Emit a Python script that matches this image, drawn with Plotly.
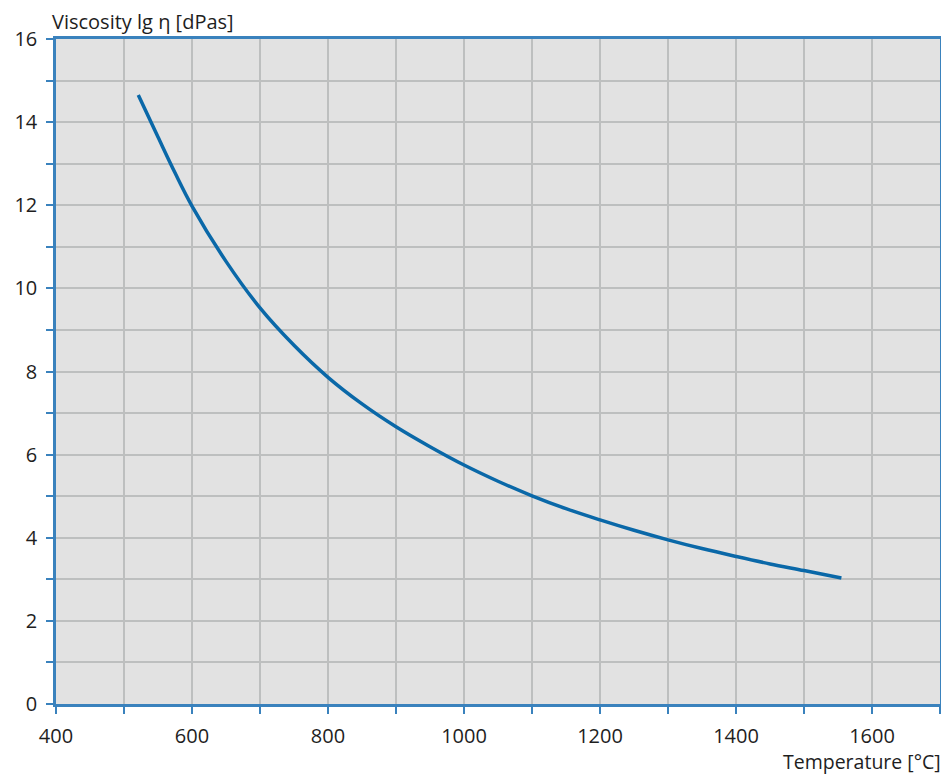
import plotly.graph_objects as go

temperature = [521, 550, 575, 600, 650, 700, 750, 800, 850, 900, 950, 1000, 1050, 1100,
               1150, 1200, 1250, 1300, 1350, 1400, 1450, 1500, 1555]
lg_viscosity = [14.65, 13.64, 12.78, 11.98, 10.65, 9.53, 8.63, 7.86, 7.22, 6.67, 6.19, 5.75, 5.36, 5.01,
                4.70, 4.43, 4.18, 3.95, 3.74, 3.55, 3.37, 3.21, 3.03]

x_tickvals = list(range(400, 1701, 100))
x_ticktext = [str(v) if v % 200 == 0 else "" for v in x_tickvals]
y_tickvals = list(range(0, 17))
y_ticktext = [str(v) if v % 2 == 0 else "" for v in y_tickvals]

BLUE = "#3a82bd"
FONT = "Open Sans"
TXT = "#1e1e1e"

fig = go.Figure()
fig.add_trace(go.Scatter(
    x=temperature, y=lg_viscosity, mode="lines",
    line=dict(color="#0a68a8", width=3.5, shape="spline", smoothing=1.0),
    showlegend=False, hoverinfo="skip",
))

axis_common = dict(
    showgrid=True, gridcolor="#bdbfbf", gridwidth=1.5,
    showline=True, linecolor=BLUE, linewidth=2.5, mirror=True,
    ticks="outside", ticklen=7, tickcolor=BLUE, tickwidth=2,
    zeroline=False, ticklabelstandoff=5,
    tickfont=dict(family=FONT, size=20, color=TXT),
)

fig.update_layout(
    width=941, height=768,
    margin=dict(l=46, r=6, t=31, b=72),
    paper_bgcolor="white", plot_bgcolor="#e2e2e2",
    font=dict(family=FONT, size=20, color=TXT),
    xaxis=dict(range=[400, 1700], tickvals=x_tickvals, ticktext=x_ticktext, **axis_common),
    yaxis=dict(range=[0, 16], tickvals=y_tickvals, ticktext=y_ticktext, **axis_common),
    annotations=[
        dict(text="Viscosity lg η [dPas]", xref="paper", yref="paper",
             x=0, y=1.0, xanchor="left", yanchor="bottom", yshift=3, xshift=-5,
             borderpad=0,
             showarrow=False, font=dict(family=FONT, size=20, color=TXT)),
        dict(text="Temperature [°C]", xref="paper", yref="paper",
             x=1.0, y=0, xanchor="right", yanchor="top", yshift=-43, xshift=2,
             borderpad=0,
             showarrow=False, font=dict(family=FONT, size=19.5, color=TXT)),
    ],
)

fig.write_html("out.html")
